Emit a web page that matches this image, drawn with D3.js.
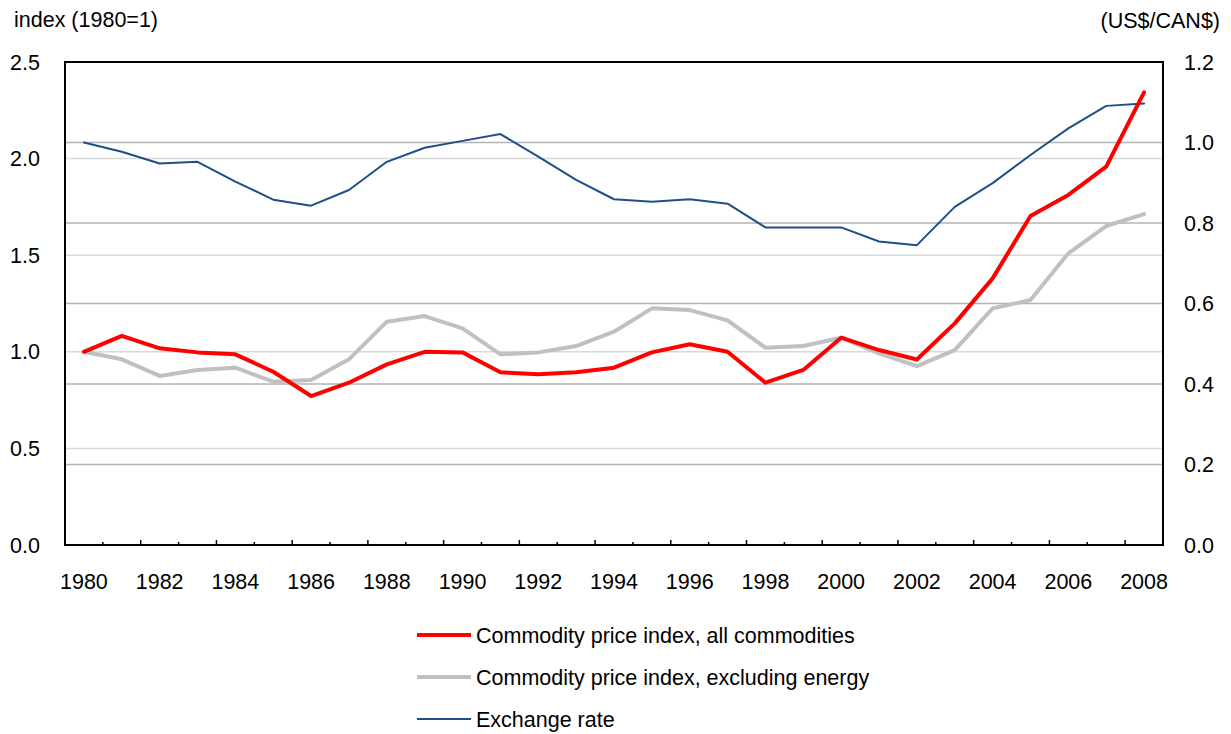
<!DOCTYPE html>
<html>
<head>
<meta charset="utf-8">
<script src="https://cdn.jsdelivr.net/npm/d3@7"></script>
<style>
  body { margin: 0; background: #fff; }
  svg { font-family: "Liberation Sans", Arial, sans-serif; }
</style>
</head>
<body>
<svg id="chart" width="1231" height="734"></svg>
<script>
// data
const years = [1980, 1981, 1982, 1983, 1984, 1985, 1986, 1987, 1988, 1989,
               1990, 1991, 1992, 1993, 1994, 1995, 1996, 1997, 1998, 1999,
               2000, 2001, 2002, 2003, 2004, 2005, 2006, 2007, 2008];

const allCommodities = [1.000, 1.082, 1.018, 0.997, 0.987, 0.897, 0.771, 0.840, 0.935, 1.000,
                        0.997, 0.894, 0.884, 0.894, 0.918, 0.997, 1.039, 1.000, 0.840, 0.906,
                        1.073, 1.009, 0.960, 1.147, 1.380, 1.703, 1.812, 1.958, 2.343];

const exclEnergy = [1.000, 0.961, 0.875, 0.906, 0.918, 0.845, 0.854, 0.961, 1.156, 1.185,
                    1.121, 0.987, 0.997, 1.030, 1.104, 1.225, 1.216, 1.163, 1.021, 1.030,
                    1.073, 0.992, 0.926, 1.009, 1.225, 1.268, 1.510, 1.651, 1.713];

const exchangeRate = [1.000, 0.977, 0.948, 0.952, 0.903, 0.858, 0.843, 0.882, 0.952, 0.987,
                      1.004, 1.021, 0.965, 0.907, 0.859, 0.853, 0.859, 0.848, 0.789, 0.789,
                      0.789, 0.754, 0.745, 0.840, 0.899, 0.969, 1.035, 1.091, 1.097];

const leftTicks = [0, 0.5, 1.0, 1.5, 2.0, 2.5];
const rightTicks = [0, 0.2, 0.4, 0.6, 0.8, 1.0, 1.2];
const yearLabels = years.filter(y => y % 2 === 0);

const legendItems = [
    { label: "Commodity price index, all commodities", color: "#ff0000", width: 4 },
    { label: "Commodity price index, excluding energy", color: "#c0c0c0", width: 4 },
    { label: "Exchange rate", color: "#1f4e89", width: 2 }
];

const svg = d3.select("#chart");
const plotL = 65, plotR = 1163, plotT = 62, plotB = 545;
const fs = 21.5;

const x = d3.scaleBand().domain(years).range([plotL, plotR]).padding(0);
const yL = d3.scaleLinear().domain([0, 2.5]).range([plotB, plotT]);
const yR = d3.scaleLinear().domain([0, 1.2]).range([plotB, plotT]);
const cx = d => x(d) + x.bandwidth() / 2;

// gridlines: left axis (light), right axis (darker)
svg.append("g").selectAll("line")
    .data(leftTicks.filter(t => t > 0 && t < 2.5))
    .join("line")
    .attr("x1", plotL).attr("x2", plotR)
    .attr("y1", d => yL(d)).attr("y2", d => yL(d))
    .attr("stroke", "#d9d9d9").attr("stroke-width", 1.5);

svg.append("g").selectAll("line")
    .data(rightTicks.filter(t => t > 0 && t < 1.2))
    .join("line")
    .attr("x1", plotL).attr("x2", plotR)
    .attr("y1", d => yR(d)).attr("y2", d => yR(d))
    .attr("stroke", "#b3b3b3").attr("stroke-width", 1.5);

// x ticks on band boundaries, pointing inward
const bounds = d3.range(1, years.length);
svg.append("g").selectAll("line")
    .data(bounds)
    .join("line")
    .attr("x1", k => plotL + k * x.bandwidth())
    .attr("x2", k => plotL + k * x.bandwidth())
    .attr("y1", plotB)
    .attr("y2", k => plotB - (k % 2 === 0 ? 5 : 3))
    .attr("stroke", "#000").attr("stroke-width", 1.5);

// series
const series = [
    { values: exchangeRate, y: yR, color: "#1f4e89", width: 2 },
    { values: exclEnergy, y: yL, color: "#c0c0c0", width: 4 },
    { values: allCommodities, y: yL, color: "#ff0000", width: 4 }
];
series.forEach(s => {
    const line = d3.line().x((d, i) => cx(years[i])).y(d => s.y(d));
    svg.append("path")
        .attr("d", line(s.values))
        .attr("fill", "none")
        .attr("stroke", s.color)
        .attr("stroke-width", s.width)
        .attr("stroke-linejoin", "round")
        .attr("stroke-linecap", "round");
});

// frame
svg.append("rect")
    .attr("x", plotL).attr("y", plotT)
    .attr("width", plotR - plotL).attr("height", plotB - plotT)
    .attr("fill", "none").attr("stroke", "#000").attr("stroke-width", 2);

// tick labels
svg.append("g").selectAll("text")
    .data(leftTicks)
    .join("text")
    .attr("x", 40).attr("y", d => yL(d))
    .attr("dy", "0.35em")
    .attr("text-anchor", "end")
    .attr("font-size", fs)
    .text(d => d.toFixed(1));

svg.append("g").selectAll("text")
    .data(rightTicks)
    .join("text")
    .attr("x", 1184).attr("y", d => yR(d))
    .attr("dy", "0.35em")
    .attr("font-size", fs)
    .text(d => d.toFixed(1));

svg.append("g").selectAll("text")
    .data(yearLabels)
    .join("text")
    .attr("x", d => cx(d)).attr("y", 589)
    .attr("text-anchor", "middle")
    .attr("font-size", fs)
    .text(d => d);

// axis titles
svg.append("text").attr("x", 14).attr("y", 27)
    .attr("font-size", fs).text("index (1980=1)");
svg.append("text").attr("x", 1220).attr("y", 28)
    .attr("text-anchor", "end")
    .attr("font-size", fs).text("(US$/CAN$)");

// legend
const leg = svg.append("g").selectAll("g")
    .data(legendItems)
    .join("g")
    .attr("transform", (d, i) => `translate(417, ${635 + i * 42})`);
leg.append("line")
    .attr("x1", 0).attr("x2", 54)
    .attr("stroke", d => d.color)
    .attr("stroke-width", d => d.width);
leg.append("text")
    .attr("x", 59).attr("dy", "0.35em")
    .attr("font-size", fs)
    .text(d => d.label);
</script>
</body>
</html>
